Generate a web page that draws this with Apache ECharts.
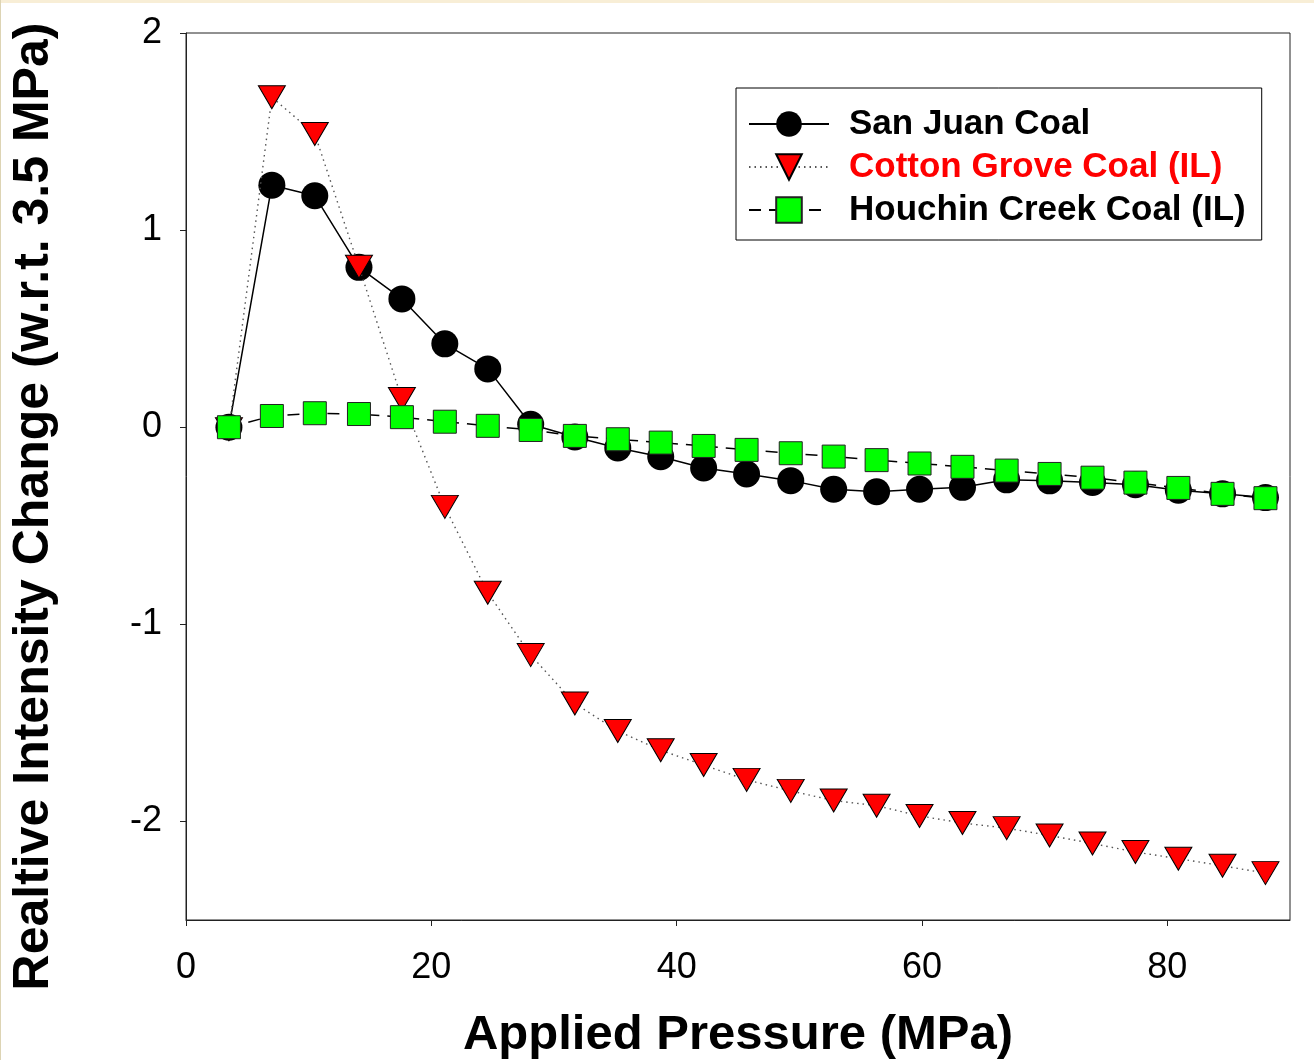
<!DOCTYPE html>
<html>
<head>
<meta charset="utf-8">
<script src="https://cdn.jsdelivr.net/npm/echarts@6/dist/echarts.min.js"></script>
<style>
html,body{margin:0;padding:0;background:#fff;}
#chart{width:1314px;height:1060px;}
</style>
</head>
<body>
<div id="chart"></div>
<script>
// Applied pressure (MPa)
var pressure = [3.5, 7.0, 10.5, 14.1, 17.6, 21.1, 24.6, 28.1, 31.7, 35.2, 38.7, 42.2, 45.7, 49.3, 52.8, 56.3, 59.8, 63.3, 66.9, 70.4, 73.9, 77.4, 80.9, 84.5, 88.0];
var sanJuan = [0, 1.228, 1.174, 0.811, 0.651, 0.423, 0.296, 0.015, -0.05, -0.105, -0.15, -0.207, -0.237, -0.271, -0.315, -0.327, -0.315, -0.305, -0.267, -0.272, -0.28, -0.292, -0.32, -0.338, -0.357];
var cottonGrove = [-0.01, 1.674, 1.488, 0.814, 0.143, -0.404, -0.840, -1.156, -1.402, -1.541, -1.639, -1.714, -1.789, -1.845, -1.894, -1.920, -1.972, -2.008, -2.034, -2.071, -2.112, -2.155, -2.189, -2.225, -2.262];
var houchinCreek = [0, 0.057, 0.071, 0.067, 0.051, 0.028, 0.007, -0.014, -0.044, -0.061, -0.078, -0.095, -0.115, -0.132, -0.149, -0.167, -0.184, -0.201, -0.22, -0.237, -0.256, -0.281, -0.308, -0.338, -0.36];
var xTicks = [0, 20, 40, 60, 80];
var yTicks = [-2, -1, 0, 1, 2];
var seriesNames = ['San Juan Coal', 'Cotton Grove Coal (IL)', 'Houchin Creek Coal (IL)'];

function pairs(ys) { return pressure.map(function (x, i) { return [x, ys[i]]; }); }

var FONT = 'Arial, "Liberation Sans", Helvetica, sans-serif';
var chart = echarts.init(document.getElementById('chart'), null, { renderer: 'canvas' });
chart.setOption({
  animation: false,
  backgroundColor: '#ffffff',
  graphic: [
    { type: 'rect', left: 0, top: 0, shape: { width: 1314, height: 3 }, style: { fill: '#f8eed6' }, z: 100 },
    { type: 'rect', left: 0, top: 0, shape: { width: 1, height: 1060 }, style: { fill: '#ddd4b4' }, z: 100 }
  ],
  grid: { left: 186, top: 33, right: 24, bottom: 140, show: true, borderColor: '#222', borderWidth: 1, backgroundColor: 'transparent', containLabel: false, outerBoundsMode: 'none' },
  xAxis: {
    type: 'value', min: 0, max: 90,
    name: 'Applied Pressure (MPa)', nameLocation: 'middle', nameGap: 91,
    nameTextStyle: { fontFamily: FONT, fontSize: 49, fontWeight: 'bold', color: '#000' },
    axisLine: { show: true, onZero: false, lineStyle: { color: '#222', width: 1 } },
    axisTick: { show: true, inside: false, length: 6, lineStyle: { color: '#222' }, customValues: xTicks },
    axisLabel: { fontFamily: FONT, fontSize: 36, color: '#000', margin: 30, customValues: xTicks },
    splitLine: { show: false }
  },
  yAxis: {
    type: 'value', min: -2.5, max: 2,
    name: 'Realtive Intensity Change (w.r.t. 3.5 MPa)', nameLocation: 'middle', nameGap: 127, nameRotate: 90,
    nameTextStyle: { fontFamily: FONT, fontSize: 50, fontWeight: 'bold', color: '#000', padding: [0, 60, 0, 0] },
    axisLine: { show: true, onZero: false, lineStyle: { color: '#222', width: 1 } },
    axisTick: { show: true, inside: false, length: 6, lineStyle: { color: '#222' }, customValues: yTicks },
    axisLabel: { fontFamily: FONT, fontSize: 36, color: '#000', margin: 24, customValues: yTicks },
    splitLine: { show: false }
  },
  legend: {
    left: 736, top: 88,
    orient: 'vertical',
    padding: [18, 16, 12, 12],
    backgroundColor: '#fff', borderColor: '#000', borderWidth: 1,
    itemWidth: 80, itemHeight: 32, itemGap: 7,
    textStyle: { fontFamily: FONT, fontSize: 35, fontWeight: 'bold', color: '#000', lineHeight: 36, padding: [0, 0, 0, 15] },
    data: [
      { name: seriesNames[0] },
      { name: seriesNames[1], textStyle: { color: '#ff0000' } },
      { name: seriesNames[2] }
    ]
  },
  series: [
    {
      name: seriesNames[0], type: 'line', data: pairs(sanJuan),
      symbol: 'circle', symbolSize: 27,
      itemStyle: { color: '#000', borderColor: '#000', borderWidth: 0 },
      lineStyle: { color: '#000', width: 1.5, type: 'solid' },
      z: 2
    },
    {
      name: seriesNames[1], type: 'line', data: pairs(cottonGrove),
      symbol: 'triangle', symbolSize: [27, 23], symbolRotate: 180,
      itemStyle: { color: '#ff0000', borderColor: '#000', borderWidth: 1 },
      lineStyle: { color: '#555', width: 1.4, type: [1.5, 4] },
      z: 3
    },
    {
      name: seriesNames[2], type: 'line', data: pairs(houchinCreek),
      symbol: 'rect', symbolSize: 23,
      itemStyle: { color: '#00ff00', borderColor: '#222', borderWidth: 1 },
      lineStyle: { color: '#000', width: 1.5, type: [12, 8] },
      z: 4
    }
  ]
});
</script>
</body>
</html>
